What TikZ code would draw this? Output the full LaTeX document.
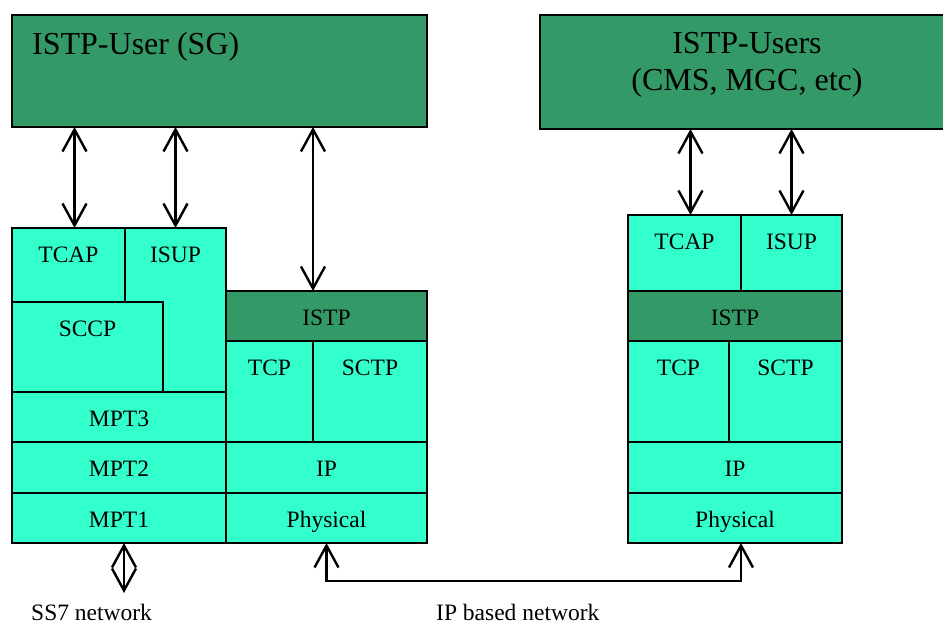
\documentclass[tikz,border=0pt]{standalone}
\usepackage{fontspec}
\setmainfont{Liberation Serif}
\usetikzlibrary{arrows.meta,calc}
\definecolor{userGreen}{RGB}{51,153,102}
\definecolor{layerAqua}{RGB}{51,255,204}
\tikzset{
  layerbox/.style={draw=black, line width=2.6pt, fill=layerAqua, inner sep=0pt, outer sep=0pt, anchor=north west},
  userbox/.style={layerbox, fill=userGreen},
  lbl/.style={anchor=base, inner sep=0pt, font=\fontsize{23.5}{28}\selectfont},
  bigl/.style={anchor=base, inner sep=0pt, font=\fontsize{32}{37}\selectfont},
  biarrow/.style={line width=2.4pt, {Straight Barb[length=22pt,width=24pt,line width=2.4pt]}-{Straight Barb[length=22pt,width=24pt,line width=2.4pt]}}
}
\begin{document}
\begin{tikzpicture}[x=1pt,y=-1pt]
\useasboundingbox (0,0) rectangle (943,626);
\clip (0,0) rectangle (943,626);

% users
\node[userbox, minimum width=415pt, minimum height=112pt] (userSG) at (12,15) {};
\node[bigl, anchor=base west] (userSGt) at (32,55) {ISTP-User (SG)};
\node[userbox, minimum width=414pt, minimum height=114pt] (userMGC) at (540,15) {};
\node[bigl] (userMGCa) at (747,54) {ISTP-Users};
\node[bigl] (userMGCb) at (747,91) {(CMS, MGC, etc)};

% SS7 stack of the SG
\node[layerbox, minimum width=101pt, minimum height=164pt] (isupL) at (125,228) {};
\node[layerbox, minimum width=113pt, minimum height=74pt] (tcapL) at (12,228) {};
\node[layerbox, minimum width=151pt, minimum height=90pt] (sccpL) at (12,302) {};
\node[layerbox, minimum width=214pt, minimum height=50pt] (mpt3) at (12,392) {};
\node[layerbox, minimum width=214pt, minimum height=51pt] (mpt2) at (12,442) {};
\node[layerbox, minimum width=214pt, minimum height=50pt] (mpt1) at (12,493) {};
\node[lbl] at (68.5,262) {TCAP};
\node[lbl] at (175.5,262) {ISUP};
\node[lbl] at (87.5,336) {SCCP};
\node[lbl] at (119,426) {MPT3};
\node[lbl] at (119,476) {MPT2};
\node[lbl] at (119,527) {MPT1};

% IP stack of the SG
\node[userbox, minimum width=201pt, minimum height=50pt] (istpL) at (226,291) {};
\node[layerbox, minimum width=87pt, minimum height=101pt] (tcpL) at (226,341) {};
\node[layerbox, minimum width=114pt, minimum height=101pt] (sctpL) at (313,341) {};
\node[layerbox, minimum width=201pt, minimum height=51pt] (ipL) at (226,442) {};
\node[layerbox, minimum width=201pt, minimum height=50pt] (physL) at (226,493) {};
\node[lbl] at (326.5,325) {ISTP};
\node[lbl] at (269.5,375) {TCP};
\node[lbl] at (370,375) {SCTP};
\node[lbl] at (326.5,476) {IP};
\node[lbl] at (326.5,527) {Physical};

% stack of the other ISTP users
\node[layerbox, minimum width=113pt, minimum height=76pt] (tcapR) at (628,215) {};
\node[layerbox, minimum width=101pt, minimum height=76pt] (isupR) at (741,215) {};
\node[userbox, minimum width=214pt, minimum height=50pt] (istpR) at (628,291) {};
\node[layerbox, minimum width=101pt, minimum height=101pt] (tcpR) at (628,341) {};
\node[layerbox, minimum width=113pt, minimum height=101pt] (sctpR) at (729,341) {};
\node[layerbox, minimum width=214pt, minimum height=51pt] (ipR) at (628,442) {};
\node[layerbox, minimum width=214pt, minimum height=50pt] (physR) at (628,493) {};
\node[lbl] at (684.5,249) {TCAP};
\node[lbl] at (791.5,249) {ISUP};
\node[lbl] at (735,325) {ISTP};
\node[lbl] at (678.5,375) {TCP};
\node[lbl] at (785.5,375) {SCTP};
\node[lbl] at (735,476) {IP};
\node[lbl] at (735,527) {Physical};

% user <-> protocol connectors
\coordinate (tcapLtop) at ($(tcapL.north)+(6,0)$);
\coordinate (tcapRtop) at ($(tcapR.north)+(6,0)$);
\draw[biarrow] (userSG.south -| tcapLtop) -- (tcapLtop);
\draw[biarrow] (userSG.south -| isupL.north) -- (isupL.north);
\draw[biarrow] (userSG.south -| sctpL.north west) -- (istpL.north -| sctpL.north west);
\draw[biarrow] (userMGC.south -| tcapRtop) -- (tcapRtop);
\draw[biarrow] (userMGC.south -| isupR.north) -- (isupR.north);

% networks
\coordinate (ss7end) at (124,593);
\draw[biarrow] (mpt1.south -| ss7end) -- (ss7end);
\coordinate (physRtap) at (physR.south -| isupR.north west);
\coordinate (ipleft) at (326.5,581);
\coordinate (ipright) at (741,581);
\draw[biarrow] (physL.south) -- (ipleft) -- (ipright) -- (physRtap);

\node[lbl, anchor=base west] (ss7lbl) at (31,620) {SS7 network};
\node[lbl, anchor=base west] (iplbl) at (436,620) {IP based network};
\end{tikzpicture}
\end{document}
